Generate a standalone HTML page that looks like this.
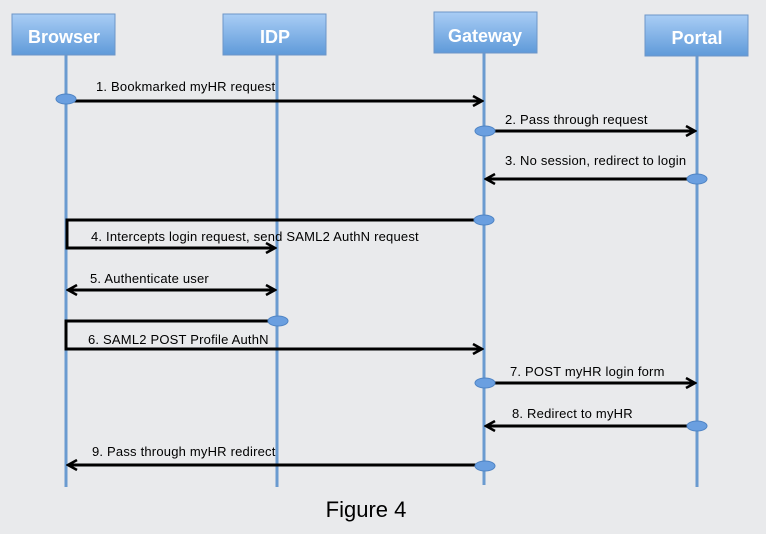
<!DOCTYPE html>
<html><head><style>
html,body{margin:0;padding:0;background:#e9eaec;}
svg{display:block;}
text{font-family:"Liberation Sans",sans-serif;}
</style></head><body>
<svg width="766" height="534" viewBox="0 0 766 534" xmlns="http://www.w3.org/2000/svg">
<defs>
<linearGradient id="g" x1="0" y1="0" x2="0" y2="1">
<stop offset="0" stop-color="#a9cdf5"/><stop offset="1" stop-color="#5f9ad9"/>
</linearGradient>
<marker id="a" markerWidth="12" markerHeight="12" refX="10" refY="6" orient="auto" markerUnits="userSpaceOnUse">
<path d="M1,1 L10,6 L1,11" fill="none" stroke="#000" stroke-width="2.5"/>
</marker>
<marker id="b" markerWidth="12" markerHeight="12" refX="2" refY="6" orient="auto" markerUnits="userSpaceOnUse">
<path d="M11,1 L2,6 L11,11" fill="none" stroke="#000" stroke-width="2.5"/>
</marker>
</defs>
<rect width="766" height="534" fill="#e9eaec"/>
<g stroke="#6a9bd0" stroke-width="3">
<line x1="66" y1="55" x2="66" y2="487"/>
<line x1="277" y1="55" x2="277" y2="487"/>
<line x1="484" y1="53" x2="484" y2="485"/>
<line x1="697" y1="55" x2="697" y2="487"/>
</g>
<g stroke="#6d96c8" stroke-width="1" fill="url(#g)">
<rect x="12" y="14" width="103" height="41"/>
<rect x="223" y="14" width="103" height="41"/>
<rect x="434" y="12" width="103" height="41"/>
<rect x="645" y="15" width="103" height="41"/>
</g>
<g fill="#fff" font-size="18" font-weight="bold" text-anchor="middle">
<text x="64" y="43">Browser</text>
<text x="275" y="43">IDP</text>
<text x="485" y="42">Gateway</text>
<text x="697" y="44">Portal</text>
</g>
<g stroke="#000" stroke-width="3" fill="none">
<line x1="66" y1="101" x2="482" y2="101" marker-end="url(#a)"/>
<line x1="484" y1="131" x2="695" y2="131" marker-end="url(#a)"/>
<line x1="697" y1="179" x2="486" y2="179" marker-end="url(#a)"/>
<polyline points="484,220 67,220 67,248 275,248" marker-end="url(#a)"/>
<line x1="68" y1="290" x2="275" y2="290" marker-end="url(#a)" marker-start="url(#b)"/>
<polyline points="277,321 66,321 66,349 482,349" marker-end="url(#a)"/>
<line x1="484" y1="383" x2="695" y2="383" marker-end="url(#a)"/>
<line x1="697" y1="426" x2="486" y2="426" marker-end="url(#a)"/>
<line x1="484" y1="465" x2="68" y2="465" marker-end="url(#a)"/>
</g>
<g fill="#6a9fe0" stroke="#4f84c4" stroke-width="1">
<ellipse cx="66" cy="99" rx="10" ry="5"/>
<ellipse cx="485" cy="131" rx="10" ry="5"/>
<ellipse cx="697" cy="179" rx="10" ry="5"/>
<ellipse cx="484" cy="220" rx="10" ry="5"/>
<ellipse cx="278" cy="321" rx="10" ry="5"/>
<ellipse cx="485" cy="383" rx="10" ry="5"/>
<ellipse cx="697" cy="426" rx="10" ry="5"/>
<ellipse cx="485" cy="466" rx="10" ry="5"/>
</g>
<g fill="#000" font-size="13" letter-spacing="0.2">
<text x="96" y="91">1.  Bookmarked myHR request</text>
<text x="505" y="124">2. Pass through request</text>
<text x="505" y="165">3.  No session, redirect to login</text>
<text x="91" y="241">4.  Intercepts login request, send SAML2 AuthN request</text>
<text x="90" y="283">5.  Authenticate user</text>
<text x="88" y="344">6.  SAML2 POST Profile AuthN</text>
<text x="510" y="376">7. POST myHR login form</text>
<text x="512" y="418">8.  Redirect to myHR</text>
<text x="92" y="456">9.  Pass through myHR redirect</text>
</g>
<text x="366" y="517" font-size="22" text-anchor="middle" fill="#000">Figure 4</text>
</svg>
</body></html>
